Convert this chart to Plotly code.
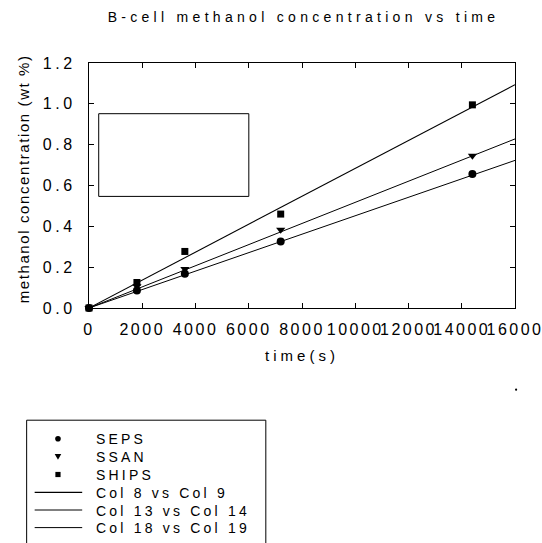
import plotly.graph_objects as go

# ---- data ----
time_s = [0, 1800, 3600, 7200, 14400]
seps = [0.0, 0.086, 0.168, 0.326, 0.656]
ssan = [0.0, 0.106, 0.191, 0.383, 0.746]
ships = [0.0, 0.125, 0.277, 0.460, 0.995]

fit_x = [0, 16000]
fit_ships = [0.0, 1.094]   # Col 8 vs Col 9
fit_ssan = [0.0, 0.828]    # Col 13 vs Col 14
fit_seps = [0.0, 0.723]    # Col 18 vs Col 19

x_ticks = [0, 2000, 4000, 6000, 8000, 10000, 12000, 14000, 16000]
y_ticks = [0.0, 0.2, 0.4, 0.6, 0.8, 1.0, 1.2]

series_names = ["SEPS", "SSAN", "SHIPS"]
fit_names = ["Col 8 vs Col 9", "Col 13 vs Col 14", "Col 18 vs Col 19"]

FONT = "Liberation Sans, Arial, sans-serif"


def sp(t, ls=2.0):
    return f'<span style="letter-spacing:{ls}px">{t}</span>'


fig = go.Figure()

fig.add_trace(go.Scatter(x=time_s, y=seps, mode="markers", name=series_names[0],
                         marker=dict(symbol="circle", size=8, color="black"),
                         cliponaxis=False))
fig.add_trace(go.Scatter(x=time_s, y=ssan, mode="markers", name=series_names[1],
                         marker=dict(symbol="triangle-down", size=8, color="black"),
                         cliponaxis=False))
fig.add_trace(go.Scatter(x=time_s, y=ships, mode="markers", name=series_names[2],
                         marker=dict(symbol="square", size=7, color="black"),
                         cliponaxis=False))
fig.add_trace(go.Scatter(x=fit_x, y=fit_ships, mode="lines", name=fit_names[0],
                         line=dict(color="black", width=1.1)))
fig.add_trace(go.Scatter(x=fit_x, y=fit_ssan, mode="lines", name=fit_names[1],
                         line=dict(color="black", width=1)))
fig.add_trace(go.Scatter(x=fit_x, y=fit_seps, mode="lines", name=fit_names[2],
                         line=dict(color="black", width=1)))

axis_common = dict(showgrid=False, zeroline=False, showline=True, linecolor="black",
                   linewidth=1, mirror="ticks", ticks="inside", ticklen=5,
                   tickcolor="black", tickfont=dict(family=FONT, size=16, color="black"))

fig.update_xaxes(range=[0, 16000], tickmode="array", tickvals=x_ticks, tickangle=0,
                 ticktext=[sp(str(v), 2.5) for v in x_ticks], ticklabelstandoff=7,
                 ticklabeloverflow="allow",
                 title=dict(text=sp("time(s)", 4), font=dict(family=FONT, size=15, color="black"),
                            standoff=13),
                 **axis_common)
fig.update_yaxes(range=[0, 1.2], tickmode="array", tickvals=y_ticks,
                 ticktext=[sp(f"{v:.1f}", 3.6) for v in y_ticks], ticklabelstandoff=9,
                 **axis_common)

# ---- pixel -> paper helpers for the hand-drawn legend / decorations ----
L, R, T, B = 89.3, 515.0, 63.3, 308.3
def px(x):
    return (x - L) / (R - L)
def py(y):
    return (B - y) / (B - T)

shapes = [
    # empty inset box inside the plot
    dict(type="rect", xref="paper", yref="paper", x0=px(99), x1=px(249), y0=py(196.7), y1=py(114),
         line=dict(color="black", width=1)),
    # stray dot
    dict(type="circle", xref="paper", yref="paper", x0=px(515), x1=px(517.2), y0=py(391.1), y1=py(388.9),
         fillcolor="black", line=dict(width=0)),
    # legend frame (runs off the bottom edge)
    dict(type="rect", xref="paper", yref="paper", x0=px(27), x1=px(266), y0=py(560), y1=py(420.5),
         line=dict(color="black", width=1), layer="above"),
]

annotations = [
    dict(text=sp("methanol concentration (wt %)", 1.6), textangle=-90, xref="paper", yref="paper",
         x=px(24), y=py(179), xanchor="center", yanchor="middle", showarrow=False,
         font=dict(family=FONT, size=15, color="black")),
]

row_y = [439.0, 456.9, 474.8, 492.7, 510.3, 527.9]
sym_x = 58.3
# legend markers
r = 2.8
shapes.append(dict(type="circle", xref="paper", yref="paper", x0=px(sym_x - r), x1=px(sym_x + r),
                   y0=py(row_y[0] + r), y1=py(row_y[0] - r), fillcolor="black", line=dict(width=0)))
ty = row_y[1]
tri = (f"M {px(sym_x - 3.3)} {py(ty - 2.6)} L {px(sym_x + 3.3)} {py(ty - 2.6)} "
       f"L {px(sym_x)} {py(ty + 3.2)} Z")
shapes.append(dict(type="path", xref="paper", yref="paper", path=tri, fillcolor="black",
                   line=dict(width=0)))
s = 2.6
shapes.append(dict(type="rect", xref="paper", yref="paper", x0=px(sym_x - s), x1=px(sym_x + s),
                   y0=py(row_y[2] + s), y1=py(row_y[2] - s), fillcolor="black", line=dict(width=0)))
# legend lines
for i, w in zip(range(3), [1.4, 1, 1]):
    yy = py(row_y[3 + i])
    shapes.append(dict(type="line", xref="paper", yref="paper", x0=px(35), x1=px(82.5),
                       y0=yy, y1=yy, line=dict(color="black", width=w)))

for name, yrow in zip(series_names + fit_names, row_y):
    annotations.append(dict(text=sp(name, 3.2), xref="paper", yref="paper", x=px(94.5), y=py(yrow + 0.5),
                            xanchor="left", yanchor="middle", showarrow=False,
                            font=dict(family=FONT, size=14, color="black")))

fig.update_layout(
    width=542, height=543,
    margin=dict(l=89, r=27, t=63, b=235, autoexpand=False),
    paper_bgcolor="white", plot_bgcolor="white",
    font=dict(family=FONT, size=14, color="black"),
    title=dict(text=sp("B-cell methanol concentration vs time", 4.3), x=0.56, xanchor="center",
               y=0.968, yanchor="middle", font=dict(family=FONT, size=14, color="black")),
    showlegend=False,
    shapes=shapes,
    annotations=annotations,
)

fig.write_html("out.html")
